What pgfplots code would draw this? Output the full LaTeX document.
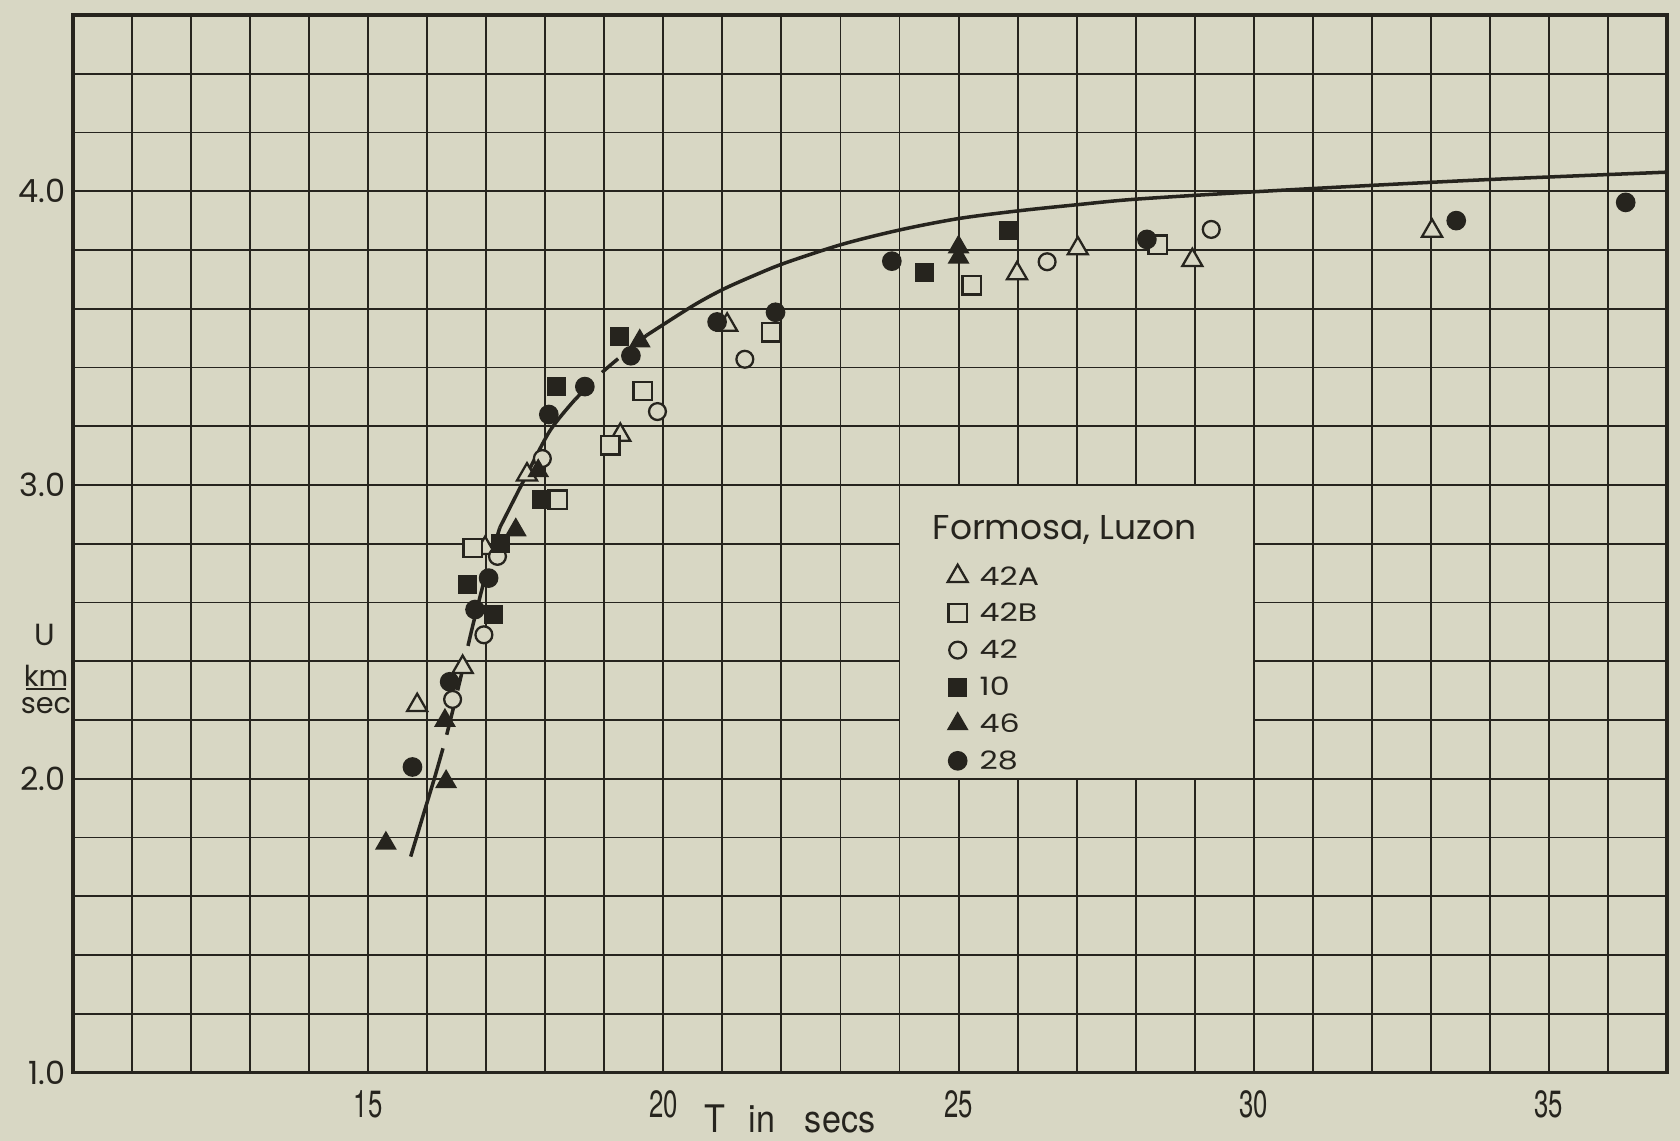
\documentclass[border=0pt]{standalone}
\usepackage{pgfplots}
\pgfplotsset{compat=1.18}
\usepackage{fontspec}
\setmainfont{Poppins}
\newfontfamily\condfont[FakeStretch=0.68]{TeX Gyre Heros}
\newfontfamily\labfont[FakeStretch=0.9]{TeX Gyre Heros}
\newfontfamily\legfont[FakeStretch=1.25]{Poppins}
\definecolor{paper}{RGB}{216,215,196}
\definecolor{ink}{RGB}{38,36,30}
\begin{document}
\begin{tikzpicture}
\fill[paper] (-0.73,-0.685) rectangle (16.07,10.725);
\path[use as bounding box] (-0.73,-0.685) rectangle (16.07,10.725);
\begin{axis}[
  at={(0,0)}, anchor=south west,
  scale only axis, width=15.94cm, height=10.575cm,
  xmin=10, xmax=37, ymin=1, ymax=4.6,
  axis line style={ink, line width=1.1pt},
  xtick={10,...,37},
  xticklabels={,,,,,15,,,,,20,,,,,25,,,,,30,,,,,35,,},
  ytick={1.0,1.2,1.4,1.6,1.8,2.0,2.2,2.4,2.6,2.8,3.0,3.2,3.4,3.6,3.8,4.0,4.2,4.4,4.6},
  yticklabels={1.0,,,,,2.0,,,,,3.0,,,,,4.0,,,},
  grid=major,
  major grid style={ink, line width=0.55pt},
  major tick length=0pt,
  tick style={draw=none},
  xticklabel style={font=\condfont\fontsize{10.8}{12}\selectfont, text=ink, anchor=north, inner sep=0pt, yshift=-0.175cm},
  yticklabel style={font=\fontsize{9.1}{11}\selectfont, text=ink, anchor=east, inner sep=0pt, xshift=-0.07cm},
  clip=false,
  legend cell align=left,
  legend image code/.code={\draw[#1] plot coordinates {(0cm,0cm)};},
  legend style={at={(axis cs:24.815,2.743)}, anchor=north west, draw=none, fill=none,
    inner sep=0pt, outer sep=0pt, row sep=1.5pt, column sep=3.4pt,
    font=\legfont\fontsize{7.2}{8}\selectfont, text=ink,
    nodes={inner sep=0pt, text height=7pt, text depth=2pt}},
]
% blank legend field
\fill[paper] (axis cs:24.015,2.003) rectangle (axis cs:29.985,2.997);
% fitted curve
\addplot[ink, line width=1pt, smooth, forget plot] coordinates {(15.72,1.735) (15.92,1.868) (16.12,2.0)};
\addplot[ink, line width=1pt, smooth, dash pattern=on 9pt off 4pt, forget plot] coordinates {(16.12,2.0) (16.33,2.15) (16.55,2.33) (16.77,2.52) (17.0,2.70) (17.23,2.855)};
\addplot[ink, line width=1pt, smooth, forget plot] coordinates {(17.23,2.855) (17.66,3.025) (18.08,3.185) (18.5,3.29)};
\addplot[ink, line width=1pt, smooth, dash pattern=on 6pt off 5pt, forget plot] coordinates {(18.5,3.29) (19.0,3.39) (19.72,3.51)};
\addplot[ink, line width=1pt, smooth, forget plot] coordinates {(19.72,3.51) (20.5,3.61) (21.0,3.665) (21.5,3.71) (22.05,3.755) (23.04,3.82) (24.02,3.869) (25.0,3.907) (26.0,3.933) (27.0,3.954) (28.0,3.973) (30.0,3.998) (32.0,4.02) (34.0,4.04) (37.0,4.065)};
% 42A open triangles
\addplot[only marks, mark=triangle*, mark size=3.3pt, mark options={draw=ink, fill=paper, line width=0.65pt}] coordinates {
(15.83,2.25) (16.6,2.38) (16.98,2.785) (17.69,3.035) (19.27,3.17) (21.08,3.545) (25.99,3.72) (27.02,3.805) (28.96,3.765) (33.02,3.865)};
\addlegendentry{42A}
% 42B open squares
\addplot[only marks, mark=square*, mark size=2.6pt, mark options={draw=ink, fill=paper, line width=0.65pt}] coordinates {
(16.77,2.785) (18.21,2.95) (19.1,3.135) (19.65,3.32) (21.82,3.52) (25.22,3.68) (28.37,3.818)};
\addlegendentry{42B}
% 42 open circles
\addplot[only marks, mark=*, mark size=2.4pt, mark options={draw=ink, fill=paper, line width=0.65pt}] coordinates {
(16.43,2.27) (16.96,2.49) (17.19,2.757) (17.95,3.09) (19.9,3.25) (21.38,3.428) (26.5,3.76) (29.28,3.87)};
\addlegendentry{42}
% 10 filled squares
\addplot[only marks, mark=square*, mark size=2.5pt, mark options={draw=ink, fill=ink}] coordinates {
(16.68,2.66) (17.13,2.56) (17.24,2.80) (17.94,2.95) (18.19,3.335) (19.26,3.505) (24.43,3.722) (25.84,3.868)};
\addlegendentry{10}
% 46 filled triangles
\addplot[only marks, mark=triangle*, mark size=3.2pt, mark options={draw=ink, fill=ink}] coordinates {
(15.3,1.78) (16.32,1.99) (16.3,2.198) (17.5,2.847) (17.88,3.048) (19.6,3.49) (25.0,3.81) (25.0,3.775)};
\addlegendentry{46}
% 28 filled circles
\addplot[only marks, mark=*, mark size=2.6pt, mark options={draw=ink, fill=ink}] coordinates {
(15.75,2.04) (16.38,2.33) (16.81,2.576) (17.04,2.683) (18.06,3.24) (18.67,3.335) (19.45,3.44) (20.91,3.555) (21.9,3.588) (23.87,3.762) (28.19,3.836) (33.43,3.9) (36.3,3.962)};
\addlegendentry{28}
% legend title
\node[anchor=base west, inner sep=0pt, font=\fontsize{9.8}{11}\selectfont, text=ink] at (axis cs:24.55,2.816) {Formosa, Luzon};
% y label
\node[inner sep=0pt, font=\fontsize{8.7}{10}\selectfont, text=ink] at (axis cs:9.53,2.488) {U};
\node[inner sep=0pt, font=\fontsize{8.2}{10}\selectfont, text=ink] at (axis cs:9.543,2.35) {km};
\draw[ink, line width=0.6pt] (axis cs:9.204,2.306) -- (axis cs:9.881,2.306);
\node[inner sep=0pt, font=\fontsize{8.2}{10}\selectfont, text=ink] at (axis cs:9.543,2.248) {sec};
% x label
\node[anchor=base west, inner sep=0pt, font=\labfont\fontsize{10.8}{12}\selectfont, text=ink] at (axis cs:20.69,0.797) {T\hspace{6.5pt}in\hspace{8.5pt}secs};
\end{axis}
\end{tikzpicture}
\end{document}
